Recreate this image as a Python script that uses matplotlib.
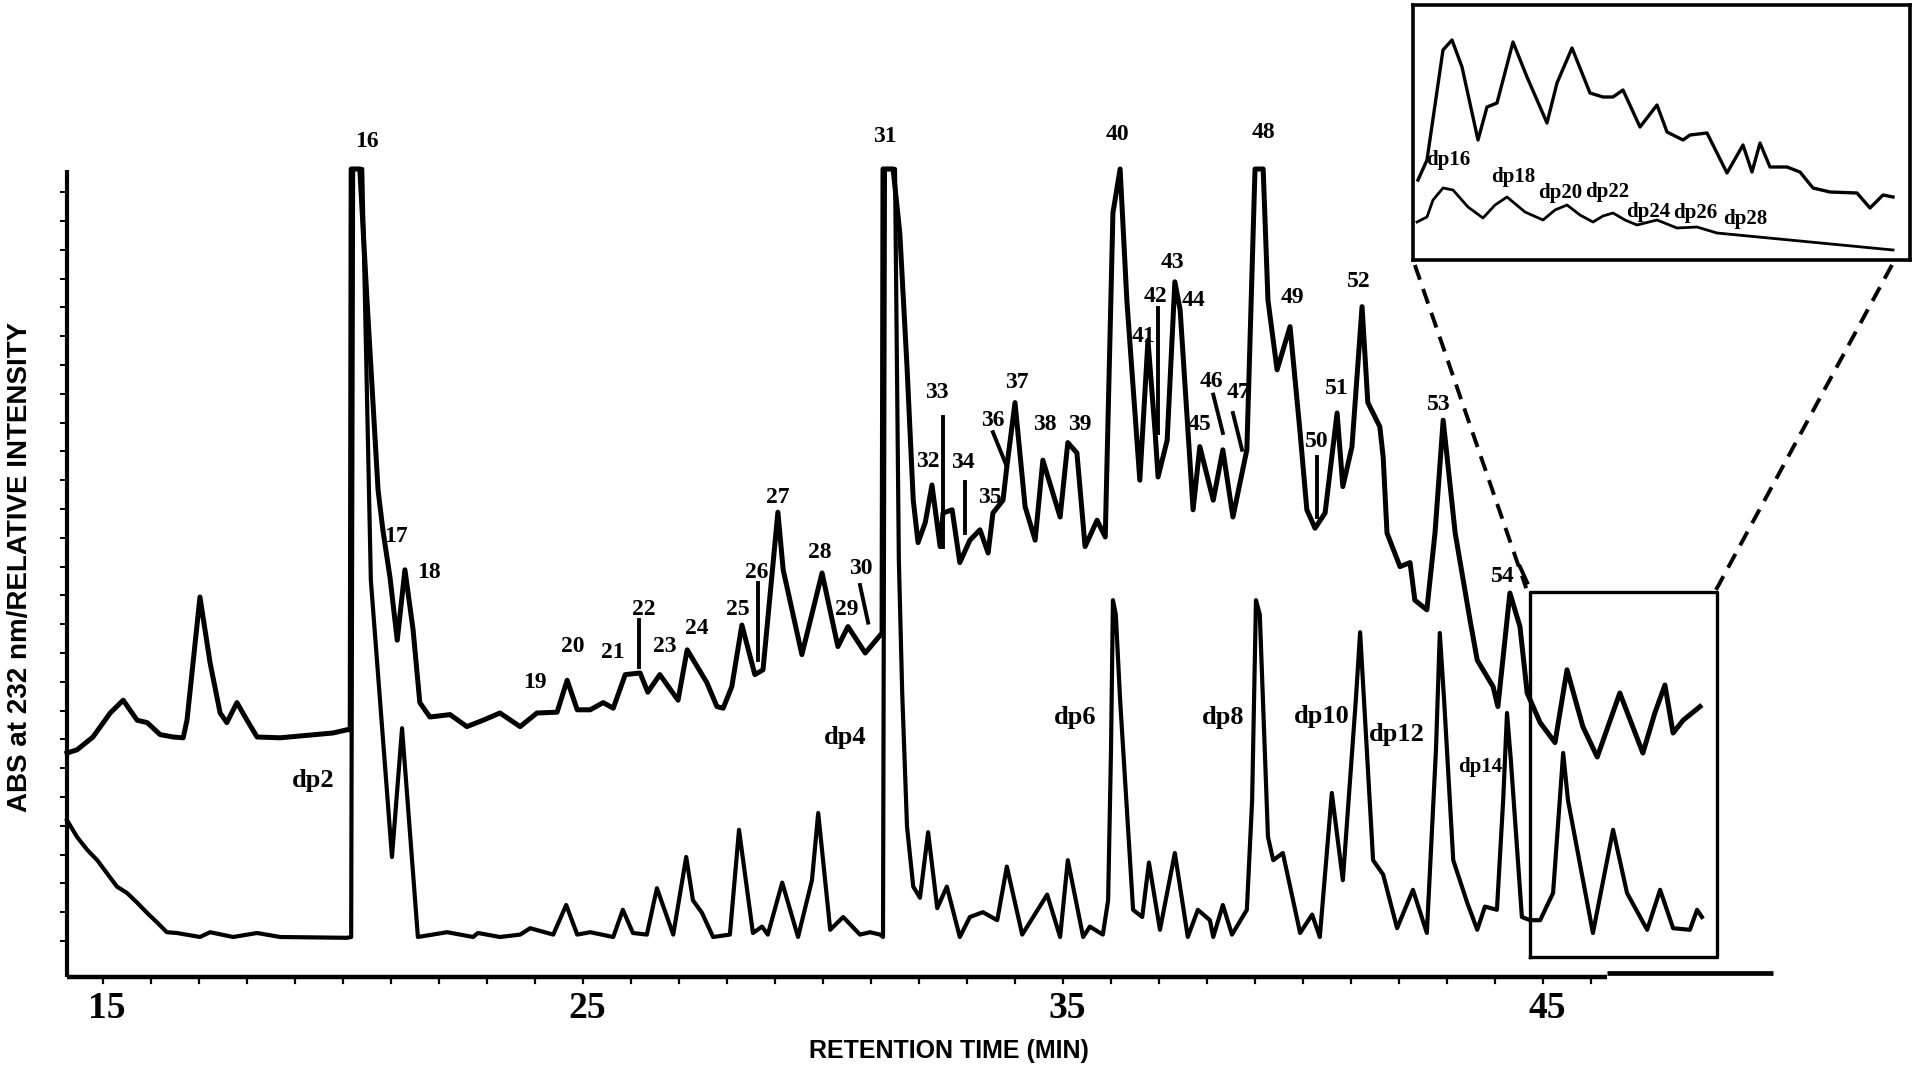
import matplotlib.pyplot as plt

# ---- lower chromatogram (retention time in min, relative intensity) ----
lower_time = [14.25, 14.46, 14.67, 14.88, 15.08, 15.29, 15.50, 15.71, 15.92, 16.13,
              16.33, 16.54, 17.02, 17.23, 17.71, 18.21, 18.69, 20.08, 20.17, 20.21,
              20.40, 20.58, 21.02, 21.23, 21.56, 22.17, 22.71, 22.81, 23.27, 23.69,
              23.90, 24.38, 24.65, 24.88, 25.15, 25.63, 25.83, 26.04, 26.33, 26.54,
              26.88, 27.15, 27.29, 27.48, 27.71, 28.06, 28.25, 28.54, 28.73, 28.85,
              29.15, 29.48, 29.77, 29.90, 30.15, 30.42, 30.77, 30.98, 31.19, 31.25,
              31.29, 31.50, 31.58, 31.65, 31.75, 31.88, 32.02, 32.19, 32.38, 32.58,
              32.85, 33.06, 33.33, 33.63, 33.83, 34.15, 34.38, 34.67, 34.94, 35.10,
              35.42, 35.56, 35.83, 35.94, 36.00, 36.04, 36.10, 36.19, 36.25, 36.46,
              36.65, 36.79, 37.02, 37.33, 37.60, 37.81, 38.06, 38.13, 38.33, 38.52,
              38.83, 38.94, 39.02, 39.10, 39.27, 39.38, 39.58, 39.94, 40.19, 40.35,
              40.60, 40.83, 41.10, 41.19, 41.27, 41.46, 41.67, 41.96, 42.29, 42.58,
              42.77, 42.85, 42.94, 43.13, 43.42, 43.63, 43.79, 44.04, 44.17, 44.25,
              44.33, 44.56, 44.73, 44.94, 45.21, 45.42, 45.52, 46.04, 46.46, 46.75,
              47.17, 47.44, 47.71, 48.06, 48.21, 48.31]
lower_signal = [19.6, 17.5, 15.9, 14.6, 13.0, 11.3, 10.5, 9.3, 8.0, 6.8,
                5.6, 5.5, 5.0, 5.6, 5.0, 5.5, 5.0, 4.9, 5.0, 101,
                101, 49.6, 15.0, 31.1, 5.0, 5.6, 5.0, 5.5, 5.0, 5.3,
                6.1, 5.3, 9.0, 5.3, 5.6, 5.0, 8.4, 5.5, 5.3, 11.1,
                5.3, 15.0, 9.6, 8.0, 5.0, 5.3, 18.4, 5.5, 6.3, 5.3,
                11.8, 5.0, 12.1, 20.5, 5.9, 7.5, 5.3, 5.6, 5.3, 5.0,
                101, 101, 52.1, 35.5, 18.8, 11.3, 9.9, 18.1, 8.6, 11.3,
                5.0, 7.5, 8.1, 7.1, 13.8, 5.3, 7.5, 10.3, 5.0, 14.6,
                5.0, 6.3, 5.3, 9.6, 28.4, 47.1, 45.3, 34.6, 28.8, 8.4,
                7.5, 14.3, 5.9, 15.5, 5.0, 8.4, 7.1, 5.0, 9.0, 5.3,
                8.4, 22.1, 47.1, 45.3, 17.5, 14.6, 15.5, 5.5, 7.8, 5.0,
                23.0, 12.1, 34.6, 43.1, 34.6, 14.6, 12.8, 6.1, 10.9, 5.5,
                28.4, 43.0, 34.6, 14.6, 9.3, 5.9, 8.8, 8.4, 22.1, 33.0,
                27.1, 7.5, 7.1, 7.1, 10.5, 28.0, 22.1, 5.5, 18.4, 10.5,
                5.9, 10.9, 6.1, 5.9, 8.4, 7.5]

# ---- upper chromatogram ----
upper_time = [14.25, 14.46, 14.79, 15.15, 15.42, 15.71, 15.92, 16.19, 16.46, 16.67,
              16.75, 17.02, 17.23, 17.44, 17.58, 17.79, 18.00, 18.21, 18.69, 19.79,
              20.08, 20.15, 20.17, 20.35, 20.50, 20.73, 20.83, 20.98, 21.13, 21.29,
              21.46, 21.60, 21.81, 22.23, 22.58, 22.92, 23.27, 23.69, 24.04, 24.46,
              24.67, 24.88, 25.15, 25.42, 25.63, 25.88, 26.19, 26.35, 26.60, 26.98,
              27.17, 27.58, 27.79, 27.92, 28.10, 28.31, 28.58, 28.75, 29.06, 29.17,
              29.56, 29.98, 30.31, 30.52, 30.88, 31.23, 31.25, 31.46, 31.60, 31.75,
              31.88, 31.98, 32.13, 32.27, 32.44, 32.50, 32.69, 32.85, 33.06, 33.27,
              33.44, 33.54, 33.75, 33.83, 34.00, 34.21, 34.42, 34.58, 34.94, 35.10,
              35.29, 35.46, 35.71, 35.88, 36.04, 36.19, 36.33, 36.60, 36.77, 36.92,
              36.98, 37.17, 37.33, 37.44, 37.71, 37.85, 38.13, 38.33, 38.54, 38.83,
              39.00, 39.17, 39.27, 39.46, 39.73, 39.94, 40.08, 40.25, 40.46, 40.71,
              40.83, 41.02, 41.23, 41.35, 41.60, 41.67, 41.75, 42.02, 42.23, 42.33,
              42.58, 42.75, 42.92, 43.17, 43.48, 43.63, 43.96, 44.06, 44.31, 44.52,
              44.67, 44.94, 45.25, 45.50, 45.83, 46.13, 46.60, 47.08, 47.33, 47.54,
              47.71, 47.92, 48.27]
upper_signal = [28.0, 28.4, 30.0, 33.0, 34.6, 32.1, 31.8, 30.3, 30.0, 29.9,
                32.1, 47.5, 39.3, 33.0, 31.8, 34.3, 32.1, 30.0, 29.9, 30.5,
                30.9, 30.9, 101, 101, 84.6, 60.9, 55.9, 49.9, 42.1, 50.9,
                43.4, 34.3, 32.5, 32.8, 31.3, 32.1, 33.0, 31.3, 33.0, 33.1,
                37.1, 33.4, 33.4, 34.3, 33.6, 37.8, 38.0, 35.6, 37.8, 34.6,
                40.9, 36.8, 33.8, 33.6, 36.3, 44.0, 37.8, 38.4, 58.1, 50.9,
                40.3, 50.5, 41.3, 43.8, 40.5, 43.0, 101, 101, 93.0, 76.3,
                59.6, 54.3, 56.8, 61.5, 53.8, 58.0, 58.4, 51.8, 54.6, 55.9,
                53.0, 58.0, 59.6, 63.8, 71.8, 58.8, 54.6, 64.6, 57.5, 66.8,
                65.5, 53.8, 57.1, 55.0, 95.5, 101, 84.6, 62.1, 79.6, 68.0,
                62.5, 67.1, 86.9, 83.4, 58.4, 66.3, 59.6, 65.9, 57.5, 65.9,
                101, 101, 84.6, 75.9, 81.3, 68.0, 58.4, 56.1, 58.0, 70.5,
                61.3, 66.3, 83.8, 71.8, 68.8, 65.0, 55.5, 51.3, 51.8, 47.1,
                45.9, 55.5, 69.6, 55.5, 44.6, 39.6, 36.3, 33.8, 48.0, 43.8,
                35.5, 31.8, 29.3, 38.4, 31.3, 27.5, 35.5, 28.0, 33.0, 36.5,
                30.5, 32.1, 33.8]

# short pointer strokes next to some peak numbers (t0, i0, t1, i1)
pointer_lines = [(26.17, 44.6, 26.17, 38.8), (28.65, 49.3, 28.65, 39.6),
                 (30.77, 49.0, 30.94, 44.3), (32.50, 70.0, 32.50, 53.8),
                 (32.96, 61.9, 32.96, 55.5), (33.54, 68.1, 33.83, 63.8),
                 (36.98, 83.6, 36.98, 68.0), (38.13, 72.8, 38.33, 68.0),
                 (38.54, 70.5, 38.73, 65.9), (40.29, 65.0, 40.29, 57.5),
                 (44.52, 51.3, 44.67, 49.3)]

peak_names = ['16', '17', '18', '19', '20', '21', '22', '23', '24', '25', '26', '27',
              '28', '29', '30', '31', '32', '33', '34', '35', '36', '37', '38', '39',
              '40', '41', '42', '43', '44', '45', '46', '47', '48', '49', '50', '51',
              '52', '53', '54']
peak_name_t = [20.50, 21.10, 21.80, 24.00, 24.79, 25.63, 26.27, 26.71, 27.38, 28.23,
               28.63, 29.06, 29.94, 30.50, 30.79, 31.29, 32.19, 32.38, 32.92, 33.48,
               33.54, 34.04, 34.63, 35.35, 36.13, 36.67, 36.92, 37.29, 37.71, 37.85,
               38.10, 38.65, 39.17, 39.77, 40.29, 40.71, 41.17, 42.83, 44.17]
peak_name_i = [104.4, 55.0, 50.5, 36.8, 41.3, 40.5, 45.9, 41.3, 43.6, 45.9,
               50.5, 59.9, 53.1, 45.9, 51.1, 105.0, 64.4, 73.1, 64.3, 59.9,
               69.6, 74.3, 69.0, 69.0, 105.3, 80.0, 85.0, 89.3, 84.6, 69.0,
               74.4, 73.1, 105.5, 84.9, 66.9, 73.5, 86.9, 71.6, 50.1]

dp_names = ['dp2', 'dp4', 'dp6', 'dp8', 'dp10', 'dp12', 'dp14']
dp_t = [19.38, 30.46, 35.25, 38.33, 40.40, 41.96, 43.69]
dp_i = [24.6, 29.9, 32.4, 32.4, 32.6, 30.3, 26.3]
dp_size = [19, 19, 19, 19, 19, 19, 15]

time_ticks = [15, 25, 35, 45]

# ---- enlarged view (inset), arbitrary units ----
zoom_x_upper = [1.0, 2.8, 6.0, 7.8, 9.8, 13.0, 14.8, 16.8, 20.0, 22.8,
                26.8, 28.8, 31.8, 35.4, 38.0, 40.0, 42.0, 45.4, 48.8, 50.8,
                54.0, 55.4, 58.8, 62.8, 66.0, 67.8, 69.4, 71.4, 74.8, 77.4,
                80.0, 83.4, 88.8, 91.4, 94.0, 96.0]
zoom_y_upper = [32.0, 40.0, 84.0, 88.0, 77.2, 48.0, 61.2, 62.8, 87.2, 73.2,
                54.8, 70.8, 84.8, 66.8, 65.2, 65.2, 68.0, 53.2, 62.0, 51.2,
                48.0, 50.0, 50.8, 34.8, 46.0, 35.2, 46.8, 37.2, 37.2, 35.2,
                28.8, 27.2, 26.8, 20.8, 26.0, 25.2]
zoom_x_lower = [0.8, 2.8, 4.0, 6.0, 8.0, 11.0, 14.0, 16.4, 18.8, 22.4,
                26.0, 28.4, 30.8, 33.4, 36.0, 38.0, 40.0, 42.4, 44.8, 48.8,
                52.8, 56.8, 60.8, 96.0]
zoom_y_lower = [15.2, 17.2, 24.0, 28.8, 28.0, 21.2, 16.8, 22.0, 25.2, 19.2,
                16.0, 20.0, 22.0, 18.0, 15.2, 17.6, 18.8, 16.0, 14.0, 16.0,
                12.8, 13.2, 10.8, 4.0]
zoom_names = ['dp16', 'dp18', 'dp20', 'dp22', 'dp24', 'dp26', 'dp28']
zoom_name_x = [7.0, 20.0, 29.4, 38.8, 47.0, 56.4, 66.4]
zoom_name_y = [40.0, 33.2, 26.8, 27.2, 19.2, 18.8, 16.4]

serif = 'Liberation Serif'
sans = 'Liberation Sans'

fig = plt.figure(figsize=(19.2, 10.68), dpi=100)
ax = fig.add_axes([0, 0, 1, 1])
ax.set_xlim(12.854, 52.854)
ax.set_ylim(-11.375, 122.125)
ax.axis('off')

# traces
ax.plot(lower_time, lower_signal, color='black', lw=3.0, solid_joinstyle='round')
ax.plot(upper_time, upper_signal, color='black', lw=3.6, solid_joinstyle='round')
for t0, i0, t1, i1 in pointer_lines:
    ax.plot([t0, t1], [i0, i1], color='black', lw=2.8)

# axes drawn by hand like the original figure
ax.plot([14.25, 46.33], [0, 0], color='black', lw=3.2, solid_capstyle='butt')
ax.plot([46.33, 49.8], [0.5, 0.5], color='black', lw=3.4, solid_capstyle='butt')
ax.plot([14.25, 14.25], [0, 100.9], color='black', lw=3.0, solid_capstyle='butt')
for t in range(15, 47):
    ax.plot([t, t], [0, -0.7], color='black', lw=1.6)
k = 0
while 4.5 + 3.6 * k < 100:
    yy = 4.5 + 3.6 * k
    ax.plot([14.25, 14.12], [yy, yy], color='black', lw=1.4)
    k += 1

for t in time_ticks:
    ax.text(t + 0.08, -3.9, str(t), ha='center', va='center', fontsize=27,
            fontweight='bold', family=serif)
ax.text(32.63, -9.25, 'RETENTION TIME (MIN)', ha='center', va='center', fontsize=18,
        fontweight='bold', family=sans)
ax.text(13.27, 51.3, 'ABS at 232 nm/RELATIVE INTENSITY', ha='center', va='center',
        rotation=90, fontsize=20, fontweight='bold', family=sans)

for name, t, i in zip(peak_names, peak_name_t, peak_name_i):
    ax.text(t, i, name, ha='center', va='center', fontsize=17, fontweight='bold',
            family=serif)
for name, t, i, fs in zip(dp_names, dp_t, dp_i, dp_size):
    ax.text(t, i, name, ha='center', va='center', fontsize=fs, fontweight='bold',
            family=serif)

# boxed region and its enlargement
ax.plot([44.73, 48.63, 48.63, 44.73, 44.73], [2.5, 2.5, 48.1, 48.1, 2.5],
        color='black', lw=2.4)
ax.plot([42.33, 44.65], [89.0, 48.6], color='black', lw=2.8, ls=(0, (4, 2.5)),
        clip_on=False)
ax.plot([52.27, 48.56], [89.0, 47.9], color='black', lw=2.8, ls=(0, (4, 2.5)),
        clip_on=False)

axi = fig.add_axes([1413 / 1920, 1 - 260 / 1068, 497 / 1920, 255 / 1068])
axi.set_xlim(0, 99.4)
axi.set_ylim(0, 102)
axi.set_xticks([])
axi.set_yticks([])
for s in axi.spines.values():
    s.set_linewidth(2.6)
axi.plot(zoom_x_upper, zoom_y_upper, color='black', lw=2.4)
axi.plot(zoom_x_lower, zoom_y_lower, color='black', lw=2.0)
for name, x, y in zip(zoom_names, zoom_name_x, zoom_name_y):
    axi.text(x, y, name, ha='center', va='center', fontsize=15, fontweight='bold',
             family=serif)

fig.savefig('out.png', dpi=100)
